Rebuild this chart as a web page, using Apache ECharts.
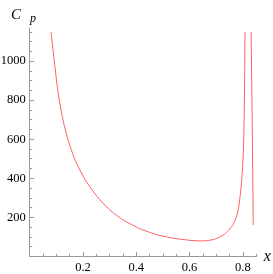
<!DOCTYPE html>
<html>
<head>
<meta charset="utf-8">
<script src="https://cdn.jsdelivr.net/npm/echarts@6/dist/echarts.min.js"></script>
<style>html,body{margin:0;padding:0;background:#fff;}#c{width:273px;height:274px;}</style>
</head>
<body>
<div id="c"></div>
<script>
// Left branch of Cp(x)
const leftX = [0.080,0.0923,0.1074,0.126,0.145,0.170,0.2075,0.2425,0.2638,0.301,0.351,0.414,0.4765,0.539,0.6015,0.639,0.665,0.689,0.710,0.726,0.742,0.758,0.768,0.777,0.784,0.790,0.795,0.799,0.802,0.804,0.806,0.807,0.808];
const leftY = [1150,1000,829,692,592,494,393,325,289,237,186,141,111,93,82,79,80,86,96,108,126,152,175,207,250,310,380,460,540,640,800,950,1150];
// Right branch
const rightX = [0.831,0.8355,0.839];
const rightY = [1150,650,160];
// Tick values
const xMajor = [0.2,0.4,0.6,0.8];
const xMinor = [0.05,0.1,0.15,0.25,0.3,0.35,0.45,0.5,0.55,0.65,0.7,0.75,0.85];
const yMajor = [200,400,600,800,1000];
const yMinor = [50,100,150,250,300,350,450,500,550,650,700,750,850,900,950,1050,1100,1150];

const leftData = leftX.map((x,i)=>[x,leftY[i]]);
const rightData = rightX.map((x,i)=>[x,rightY[i]]);

const axisGray = '#999';
const labelFont = {color:'#000', fontFamily:'Liberation Serif', fontSize:12.5};

const chart = echarts.init(document.getElementById('c'), null, {renderer:'canvas'});
chart.setOption({
  animation:false,
  grid:{left:29.7, right:16.3, top:28, bottom:17.7, containLabel:false, outerBoundsMode:'none'},
  xAxis:[{
    type:'value', min:0, max:0.852, position:'bottom',
    axisLine:{show:true, lineStyle:{color:axisGray, width:1}},
    axisTick:{show:true, inside:true, length:2.5, customValues:xMinor, lineStyle:{color:axisGray}},
    axisLabel:{show:false},
    splitLine:{show:false},
    name:'x', nameLocation:'end', nameGap:7,
    nameTextStyle:{fontFamily:'Liberation Serif', fontStyle:'italic', fontSize:16, color:'#000', padding:[6,0,0,0]}
  },{
    type:'value', min:0, max:0.852, position:'bottom',
    axisLine:{show:false},
    axisTick:{show:true, inside:true, length:4.5, customValues:xMajor, lineStyle:{color:axisGray}},
    axisLabel:Object.assign({show:true, customValues:xMajor, margin:5, formatter:v=>String(v)}, labelFont),
    splitLine:{show:false}
  }],
  yAxis:[{
    type:'value', min:0, max:1170, position:'left',
    axisLine:{show:true, lineStyle:{color:axisGray, width:1}},
    axisTick:{show:true, inside:true, length:2.5, customValues:yMinor, lineStyle:{color:axisGray}},
    axisLabel:{show:false},
    splitLine:{show:false}
  },{
    type:'value', min:0, max:1170, position:'left',
    axisLine:{show:false},
    axisTick:{show:true, inside:true, length:4.5, customValues:yMajor, lineStyle:{color:axisGray}},
    axisLabel:Object.assign({show:true, customValues:yMajor, margin:4, formatter:v=>String(v)}, labelFont),
    splitLine:{show:false}
  }],
  graphic:[
    {type:'text', left:11, top:8, style:{text:'C', fontFamily:'Liberation Serif', fontStyle:'italic', fontSize:15, fill:'#000'}},
    {type:'text', left:30, top:13, style:{text:'p', fontFamily:'Liberation Serif', fontStyle:'italic', fontSize:12, fill:'#000'}}
  ],
  series:[
    {type:'line', xAxisIndex:0, yAxisIndex:0, data:leftData, showSymbol:false, smooth:0.2, clip:true,
     lineStyle:{color:'#ff5c5c', width:1}},
    {type:'line', xAxisIndex:0, yAxisIndex:0, data:rightData, showSymbol:false, smooth:0.15, clip:true,
     lineStyle:{color:'#ff5c5c', width:1}}
  ]
});
</script>
</body>
</html>
